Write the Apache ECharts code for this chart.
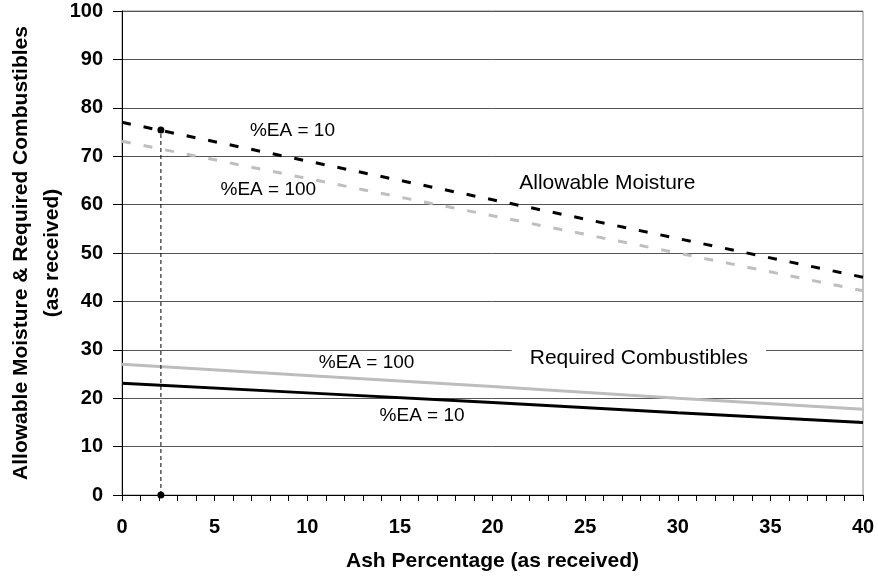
<!DOCTYPE html>
<html>
<head>
<meta charset="utf-8">
<script src="https://cdn.jsdelivr.net/npm/echarts@6/dist/echarts.min.js"></script>
<style>
html,body{margin:0;padding:0;background:#fff;}
#chart{width:878px;height:577px;}
</style>
</head>
<body>
<div id="chart"></div>
<script>
// Ash percentage (x) sample points
var ashPct = [0, 10, 20, 30, 40];
// Allowable moisture
var moistureEA10 = [77.0, 69.0, 61.0, 53.0, 45.0];
var moistureEA100 = [73.1, 65.4, 57.7, 50.0, 42.2];
// Required combustibles
var combustEA100 = [27.0, 24.7, 22.4, 20.0, 17.7];
var combustEA10 = [23.1, 21.1, 19.1, 17.0, 15.0];
// Example reading (dashed drop line)
var exampleX = [2.1, 2.1];
var exampleY = [0, 75.4];
// Tick labels
var yTicks = [0, 10, 20, 30, 40, 50, 60, 70, 80, 90, 100];
var xTicks = [0, 5, 10, 15, 20, 25, 30, 35, 40];
// Annotation texts with their data anchors
var noteText = ['%EA = 10', '%EA = 100', 'Allowable Moisture', '%EA = 100', 'Required Combustibles', '%EA = 10'];
var noteX = [9.2, 7.9, 26.2, 13.2, 27.9, 16.2];
var noteY = [75.2, 63.0, 64.5, 27.3, 28.3, 16.3];

function pairs(xs, ys){ return xs.map(function(x,i){ return [x, ys[i]]; }); }

var FONT = '"Liberation Sans", Arial, sans-serif';
var chart = echarts.init(document.getElementById('chart'), null, {renderer:'canvas'});
var notes = noteText.map(function(t,i){
  var box = (t === 'Required Combustibles');
  return {
    value: [noteX[i], noteY[i]],
    label: {
      show: true, position: 'inside', formatter: t,
      fontFamily: FONT, fontSize: box || t === 'Allowable Moisture' ? 21 : 19, color: '#000',
      textBorderWidth: 0, textBorderColor: 'transparent', opacity: 1,
      backgroundColor: box ? '#fff' : 'transparent',
      padding: box ? [4, 18, 4, 18] : 0
    }
  };
});

chart.setOption({
  animation: false,
  backgroundColor: '#fff',
  grid: {left: 122, right: 15, top: 11, bottom: 82, show: true, borderColor: '#888', borderWidth: 1,
    backgroundColor: 'transparent', containLabel: false, outerBoundsMode: 'none'},
  xAxis: {
    type: 'value', min: 0, max: 40, interval: 5,
    name: 'Ash Percentage (as received)', nameLocation: 'middle', nameGap: 56, nameMoveOverlap: false,
    nameTextStyle: {fontFamily: FONT, fontWeight: 'bold', fontSize: 21, color: '#000'},
    axisLine: {show: true, lineStyle: {color: '#000', width: 1}},
    axisTick: {show: true, inside: false, length: 6, lineStyle: {color: '#000'}},
    minorTick: {show: true, splitNumber: 5, length: 6, lineStyle: {color: '#000'}},
    axisLabel: {margin: 22, fontFamily: FONT, fontWeight: 'bold', fontSize: 20, color: '#000',
      formatter: function(v){ return xTicks.indexOf(v) >= 0 ? String(v) : ''; }},
    splitLine: {show: false}
  },
  yAxis: {
    type: 'value', min: 0, max: 100, interval: 10,
    name: 'Allowable Moisture & Required Combustibles\n(as received)', nameLocation: 'middle', nameGap: 54, nameRotate: 90,
    nameMoveOverlap: false,
    nameTextStyle: {fontFamily: FONT, fontWeight: 'bold', fontSize: 21, color: '#000', lineHeight: 31},
    axisLine: {show: true, lineStyle: {color: '#000', width: 1}},
    axisTick: {show: true, inside: false, length: 9, lineStyle: {color: '#000'}},
    axisLabel: {margin: 19, fontFamily: FONT, fontWeight: 'bold', fontSize: 20, color: '#000',
      formatter: function(v){ return yTicks.indexOf(v) >= 0 ? String(v) : ''; }},
    splitLine: {show: true, lineStyle: {color: '#555', width: 1}}
  },
  series: [
    {name: 'Moisture %EA=10', type: 'line', data: pairs(ashPct, moistureEA10), showSymbol: false, symbol: 'none',
      lineStyle: {color: '#000', width: 3, type: [9, 13]}, z: 3},
    {name: 'Moisture %EA=100', type: 'line', data: pairs(ashPct, moistureEA100), showSymbol: false, symbol: 'none',
      lineStyle: {color: '#bfbfbf', width: 3, type: [9, 13]}, z: 2},
    {name: 'Combustibles %EA=100', type: 'line', data: pairs(ashPct, combustEA100), showSymbol: false, symbol: 'none',
      lineStyle: {color: '#bdbdbd', width: 3}, z: 2},
    {name: 'Combustibles %EA=10', type: 'line', data: pairs(ashPct, combustEA10), showSymbol: false, symbol: 'none',
      lineStyle: {color: '#000', width: 3}, z: 3},
    {name: 'Example', type: 'line', data: pairs(exampleX, exampleY), symbol: 'circle', symbolSize: 7, showSymbol: true,
      itemStyle: {color: '#000'}, lineStyle: {color: '#000', width: 1, type: [4, 3]}, z: 4},
    {name: 'Notes', type: 'scatter', data: notes, symbolSize: 0, itemStyle: {color: '#000', opacity: 1}, z: 5, silent: true}
  ]
});
</script>
</body>
</html>
